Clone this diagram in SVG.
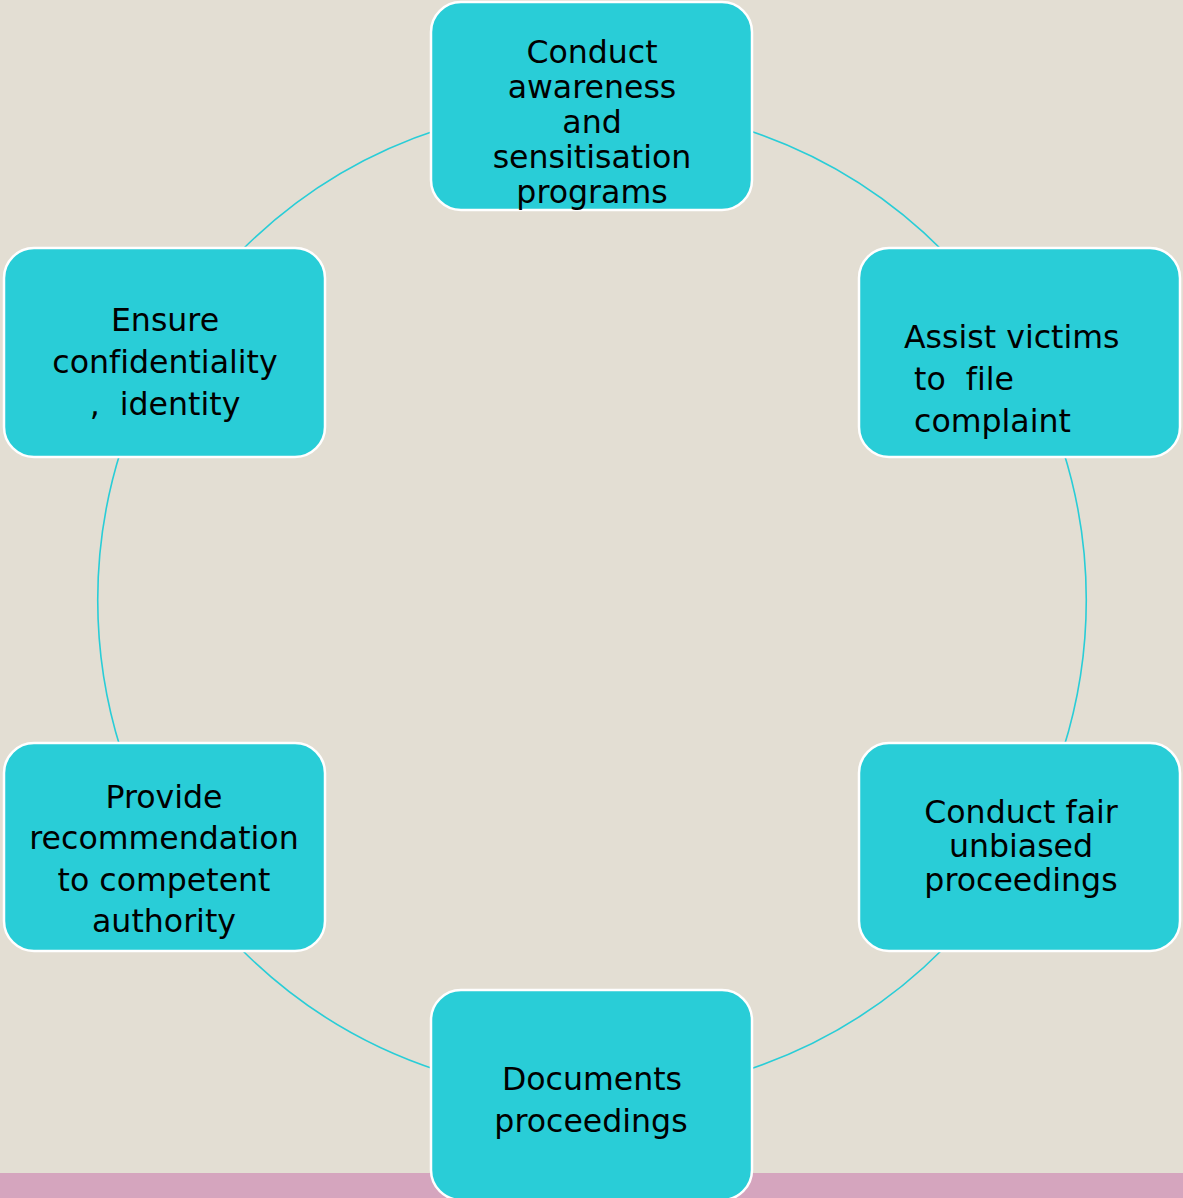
<svg xmlns="http://www.w3.org/2000/svg" width="1183" height="1198" viewBox="0 0 1183 1198">
<style>
.bg{fill:#E3DED3}
.band{fill:#D5A5BE}
.box{fill:#29CDD7;stroke:#FFFFFF;stroke-width:2.5}
.arc{fill:none;stroke:#29CDD7;stroke-width:1.6}
text{font-family:"DejaVu Sans","Verdana",sans-serif;font-size:31.6px;fill:#000000;white-space:pre;font-variant-ligatures:none}
.c{text-anchor:middle}
</style>
<rect class="bg" x="0" y="0" width="1183" height="1198"/>
<rect class="band" x="0" y="1173" width="1183" height="25"/>
<g id="connectors">
<path class="arc" d="M 440 129 A 495 495 0 0 0 240 252"/>
<path class="arc" d="M 121 450 A 495 495 0 0 0 121 750"/>
<path class="arc" d="M 240 948 A 495 495 0 0 0 440 1071"/>
<path class="arc" d="M 744 1071 A 495 495 0 0 0 944 948"/>
<path class="arc" d="M 1063 750 A 495 495 0 0 0 1063 450"/>
<path class="arc" d="M 944 252 A 495 495 0 0 0 744 129"/>
</g>
<g id="node-awareness">
<rect class="box" x="431" y="2" width="321" height="208" rx="30"/>
<text class="c" x="592" y="63">Conduct</text>
<text class="c" x="592" y="98">awareness</text>
<text class="c" x="592" y="133">and</text>
<text class="c" x="592" y="168">sensitisation</text>
<text class="c" x="592" y="203">programs</text>
</g>
<g id="node-assist">
<rect class="box" x="859" y="248" width="321" height="209" rx="30"/>
<text x="904" y="348">Assist victims</text>
<text x="904" y="390"> to  file</text>
<text x="904" y="432"> complaint</text>
</g>
<g id="node-fair">
<rect class="box" x="859" y="743" width="321" height="208" rx="30"/>
<text class="c" x="1021" y="823">Conduct fair</text>
<text class="c" x="1021" y="857">unbiased</text>
<text class="c" x="1021" y="891">proceedings</text>
</g>
<g id="node-documents">
<rect class="box" x="431" y="990" width="321" height="210" rx="30"/>
<text class="c" x="592" y="1090">Documents</text>
<text class="c" x="591" y="1132">proceedings</text>
</g>
<g id="node-recommendation">
<rect class="box" x="4" y="743" width="321" height="208" rx="30"/>
<text class="c" x="164" y="808">Provide</text>
<text class="c" x="164" y="849">recommendation</text>
<text class="c" x="164" y="891">to competent</text>
<text class="c" x="164" y="932">authority</text>
</g>
<g id="node-confidentiality">
<rect class="box" x="4" y="248" width="321" height="209" rx="30"/>
<text class="c" x="165" y="331">Ensure</text>
<text class="c" x="165" y="373">confidentiality</text>
<text class="c" x="165" y="415">,  identity</text>
</g>
</svg>
